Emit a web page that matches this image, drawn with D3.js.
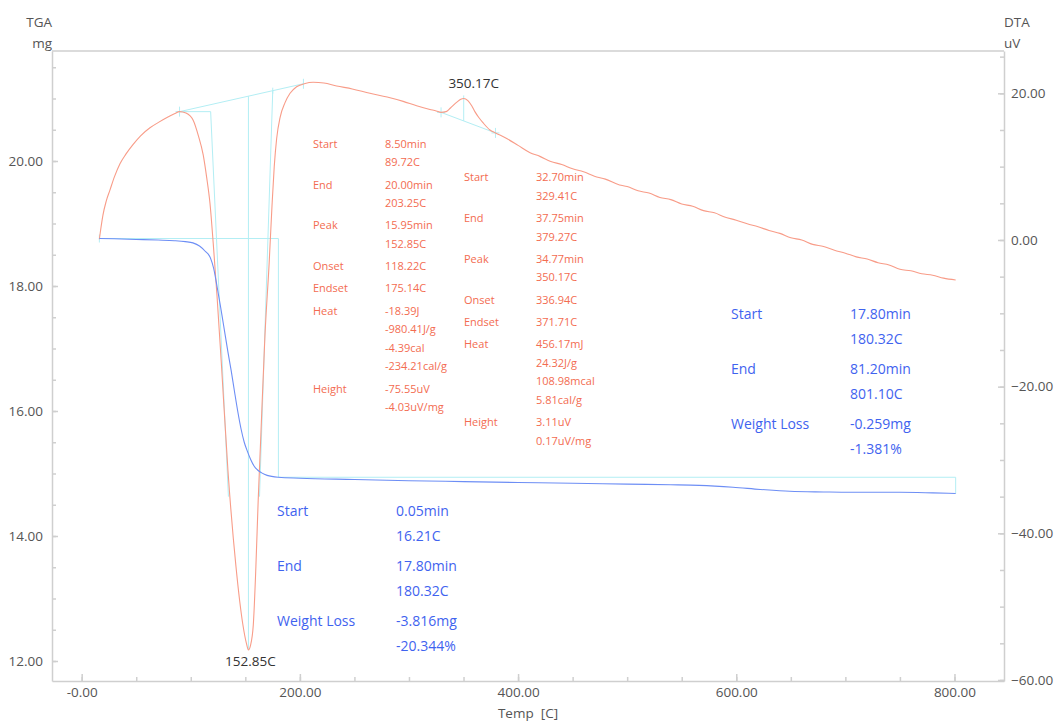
<!DOCTYPE html>
<html>
<head>
<meta charset="utf-8">
<script src="https://cdn.jsdelivr.net/npm/d3@7"></script>
<style>
  html,body{margin:0;padding:0;background:#fff;}
  svg{display:block;font-family:"Open Sans","Noto Sans",sans-serif;}
</style>
</head>
<body>
<svg id="chart" width="1054" height="722"></svg>
<script>
// ---------------- DATA ----------------
const tempTicks = [0, 200, 400, 600, 800];
const tempTickLabels = ["-0.00", "200.00", "400.00", "600.00", "800.00"];
const tempMinor = [0, 50, 100, 150, 200, 250, 300, 350, 400, 450, 500, 550, 600, 650, 700, 750, 800];
const tgaTicks = [12, 14, 16, 18, 20];
const tgaMinor = [12, 12.5, 13, 13.5, 14, 14.5, 15, 15.5, 16, 16.5, 17, 17.5, 18, 18.5, 19, 19.5, 20, 20.5, 21, 21.5];
const dtaTicks = [-60, -40, -20, 0, 20];
const dtaMinor = [-60, -55, -50, -45, -40, -35, -30, -25, -20, -15, -10, -5, 0, 5, 10, 15, 20, 25];

// TGA curve (temperature C, mass mg)
const tgaTemp = [16.21, 30, 50, 70, 85, 95, 102, 108, 113, 118, 121, 124, 127, 130, 134, 137, 140, 143, 146, 149, 152, 155, 158, 161, 165, 170, 180.32, 200, 250, 300, 350, 400, 450, 500, 540, 566, 597, 622, 649, 680, 704, 750, 780, 801.1];
const tgaMass = [18.76, 18.755, 18.745, 18.735, 18.725, 18.71, 18.69, 18.64, 18.56, 18.45, 18.28, 18.0, 17.7, 17.38, 16.95, 16.65, 16.32, 16.0, 15.72, 15.5, 15.35, 15.22, 15.12, 15.06, 15.01, 14.97, 14.94, 14.925, 14.905, 14.885, 14.87, 14.855, 14.845, 14.83, 14.82, 14.81, 14.78, 14.745, 14.715, 14.705, 14.70, 14.70, 14.69, 14.68];

// DTA curve (temperature C, signal uV)
const dtaTemp = [16.2, 17.5, 19.5, 22.5, 25.9, 30, 35.1, 40.5, 47, 54, 62.6, 70, 78.2, 85, 89.72, 95.6, 102.3, 107, 111.4, 114.5, 117.6, 120.6, 124, 128.3, 134.1, 141.4, 147.8, 151, 152.85, 154.7, 157.3, 159.7, 161.8, 164, 168, 171.9, 174.4, 176.5, 178.7, 182, 186.3, 191, 197, 204, 212.2, 222, 233.7, 248, 264.2, 280, 294.7, 307, 319.2, 325, 329.41, 334, 338, 343.9, 347.5, 350.17, 354, 357.5, 360.4, 364, 367.8, 374.2, 379.27,
  390, 400, 411, 420, 430, 440, 450, 460, 470, 480, 493, 500, 510, 520, 530, 540, 550, 560, 570, 580, 590, 600, 610, 620, 630, 640, 650, 660, 670, 680, 690, 700, 710, 720, 730, 740, 750, 760, 770, 780, 790, 801.1];
const dtaUV = [0.1, 1.5, 3.4, 5.3, 6.8, 8.6, 10.4, 11.7, 13.0, 14.2, 15.3, 16.0, 16.7, 17.2, 17.5, 17.3, 16.3, 14.2, 11.6, 8.6, 5.0, -0.5, -7.5, -17.5, -31.5, -44.5, -52.5, -55.0, -55.9, -55.3, -52.5, -44.5, -35.5, -27.5, -13.0, -3.0, 4.5, 10.0, 13.8, 16.8, 18.7, 20.0, 20.9, 21.3, 21.5, 21.4, 21.0, 20.6, 20.0, 19.5, 18.9, 18.3, 17.8, 17.6, 17.4, 17.5, 18.0, 18.8, 19.2, 19.3, 19.0, 18.3, 17.5, 16.7, 16.0, 15.0, 14.6,
  13.8, 12.9, 11.9, 11.4, 10.7, 10.3, 9.7, 9.3, 8.7, 8.3, 7.5, 7.3, 6.7, 6.4, 5.8, 5.5, 4.9, 4.6, 4.0, 3.7, 3.1, 2.7, 2.2, 1.8, 1.3, 0.9, 0.3, 0.0, -0.6, -0.9, -1.4, -1.8, -2.3, -2.6, -3.1, -3.4, -4.0, -4.2, -4.6, -4.8, -5.2, -5.45];

// DTA peak analysis 1 (temperatures C, values uV)
const peak1 = {start: 89.72, startUV: 17.5, end: 203.25, endUV: 21.3, peak: 152.85, peakUV: -55.9, onset: 118.22, endset: 175.14, tanLeftEnd: [134.5, -35], tanRightEnd: [163, -35]};
// DTA peak analysis 2
const peak2 = {start: 329.41, startUV: 17.4, end: 379.27, endUV: 14.6, peak: 350.17, peakUV: 19.3};
// TGA steps (temperature C, mass mg)
const tgaStep1 = {start: 16.21, end: 180.32, m0: 18.76, m1: 14.94};
const tgaStep2 = {start: 180.32, end: 801.1, m0: 14.94, m1: 14.68};

const peakLabel1 = "152.85C";
const peakLabel2 = "350.17C";

const dtaText1 = [["Start", ["8.50min", "89.72C"]], ["End", ["20.00min", "203.25C"]], ["Peak", ["15.95min", "152.85C"]], ["Onset", ["118.22C"]], ["Endset", ["175.14C"]], ["Heat", ["-18.39J", "-980.41J/g", "-4.39cal", "-234.21cal/g"]], ["Height", ["-75.55uV", "-4.03uV/mg"]]];
const dtaText2 = [["Start", ["32.70min", "329.41C"]], ["End", ["37.75min", "379.27C"]], ["Peak", ["34.77min", "350.17C"]], ["Onset", ["336.94C"]], ["Endset", ["371.71C"]], ["Heat", ["456.17mJ", "24.32J/g", "108.98mcal", "5.81cal/g"]], ["Height", ["3.11uV", "0.17uV/mg"]]];
const tgaText1 = [["Start", ["0.05min", "16.21C"]], ["End", ["17.80min", "180.32C"]], ["Weight Loss", ["-3.816mg", "-20.344%"]]];
const tgaText2 = [["Start", ["17.80min", "180.32C"]], ["End", ["81.20min", "801.10C"]], ["Weight Loss", ["-0.259mg", "-1.381%"]]];

// ---------------- DRAW ----------------
const svg = d3.select("#chart");
const L = 52, R = 1004, T = 51, B = 681;
const axisColor = "#cfcfcf", labelColor = "#555";
const redLine = "#f89c88", redText = "#f36c51";
const blueLine = "#6d8ef5", blueText = "#3f63ef";
const cyan = "#b3eef4";

const x = d3.scaleLinear().domain([-27.2, 845.4]).range([L, R]);
const yL = d3.scaleLinear().domain([11.68, 21.76]).range([B, T]);
const yR = d3.scaleLinear().domain([-60.14, 25.77]).range([B, T]);

function styleAxis(g) {
  g.selectAll("path, line").attr("stroke", axisColor).attr("stroke-width", 1.5);
  g.selectAll("text").attr("fill", labelColor).style("font-size", "13.5px").style("font-family", '"Open Sans","Noto Sans",sans-serif');
}

// frame top
svg.append("line").attr("x1", L).attr("x2", R).attr("y1", T).attr("y2", T).attr("stroke", axisColor).attr("stroke-width", 1.5);

// left axis
const gL = svg.append("g").attr("transform", `translate(${L},0)`)
  .call(d3.axisLeft(yL).tickValues(tgaTicks).tickFormat(d3.format(".2f")).tickSizeInner(-6).tickSizeOuter(0).tickPadding(9));
styleAxis(gL);
const gLm = svg.append("g").attr("transform", `translate(${L},0)`)
  .call(d3.axisLeft(yL).tickValues(tgaMinor).tickFormat("").tickSizeInner(-4).tickSizeOuter(0));
gLm.select(".domain").remove(); styleAxis(gLm);

// right axis
const gR = svg.append("g").attr("transform", `translate(${R},0)`)
  .call(d3.axisRight(yR).tickValues(dtaTicks).tickFormat(d3.format(".2f")).tickSizeInner(-6).tickSizeOuter(0).tickPadding(7));
styleAxis(gR);
const gRm = svg.append("g").attr("transform", `translate(${R},0)`)
  .call(d3.axisRight(yR).tickValues(dtaMinor).tickFormat("").tickSizeInner(-4).tickSizeOuter(0));
gRm.select(".domain").remove(); styleAxis(gRm);

// bottom axis
const gB = svg.append("g").attr("transform", `translate(0,${B})`)
  .call(d3.axisBottom(x).tickValues(tempTicks).tickFormat((d, i) => tempTickLabels[i]).tickSizeInner(-7).tickSizeOuter(0).tickPadding(6));
styleAxis(gB);
const gBm = svg.append("g").attr("transform", `translate(0,${B})`)
  .call(d3.axisBottom(x).tickValues(tempMinor).tickFormat("").tickSizeInner(-4).tickSizeOuter(0));
gBm.select(".domain").remove(); styleAxis(gBm);

// axis titles
const titleStyle = s => s.attr("fill", labelColor).style("font-size", "13.5px");
svg.append("text").attr("x", L).attr("y", 22).attr("text-anchor", "end").attr("dominant-baseline", "central").text("TGA").call(titleStyle);
svg.append("text").attr("x", L).attr("y", 43).attr("text-anchor", "end").attr("dominant-baseline", "central").text("mg").call(titleStyle);
svg.append("text").attr("x", R).attr("y", 22).attr("text-anchor", "start").attr("dominant-baseline", "central").text("DTA").call(titleStyle);
svg.append("text").attr("x", R).attr("y", 43).attr("text-anchor", "start").attr("dominant-baseline", "central").text("uV").call(titleStyle);
svg.append("text").attr("x", 528).attr("y", 713).attr("text-anchor", "middle").attr("dominant-baseline", "central").attr("xml:space", "preserve").text("Temp  [C]").call(titleStyle);

// construction lines
const cg = svg.append("g").attr("stroke", cyan).attr("stroke-width", 1).attr("fill", "none");
function seg(x1, y1, x2, y2) { cg.append("line").attr("x1", x1).attr("y1", y1).attr("x2", x2).attr("y2", y2); }
function cross(px, py) { seg(px - 4, py, px + 4, py); seg(px, py - 5, px, py + 5); }

// peak 1
{
  const p = peak1;
  const bl = t => p.startUV + (p.endUV - p.startUV) * (t - p.start) / (p.end - p.start);
  seg(x(p.start), yR(p.startUV), x(p.end), yR(p.endUV));
  seg(x(p.start), yR(p.startUV), x(p.onset), yR(p.startUV));
  seg(x(p.onset), yR(p.startUV), x(p.tanLeftEnd[0]), yR(p.tanLeftEnd[1]));
  seg(x(p.endset), yR(bl(p.endset)), x(p.tanRightEnd[0]), yR(p.tanRightEnd[1]));
  seg(x(p.peak), yR(bl(p.peak)), x(p.peak), yR(p.peakUV));
  seg(x(p.endset), yR(bl(p.endset)) - 3, x(p.endset), yR(bl(p.endset)) + 3);
  cross(x(p.start), yR(p.startUV));
  seg(x(p.end), yR(p.endUV) - 5, x(p.end), yR(p.endUV) + 5);
}
// peak 2
{
  const p = peak2;
  const bl = t => p.startUV + (p.endUV - p.startUV) * (t - p.start) / (p.end - p.start);
  seg(x(p.start), yR(p.startUV), x(p.end), yR(p.endUV));
  seg(x(p.peak), yR(p.peakUV) - 3, x(p.peak), yR(bl(p.peak)));
  cross(x(p.start), yR(p.startUV));
  cross(x(p.end), yR(p.endUV));
}
// TGA steps
[tgaStep1, tgaStep2].forEach(s => {
  seg(x(s.start), yL(s.m0), x(s.end), yL(s.m0));
  seg(x(s.end), yL(s.m0), x(s.end), yL(s.m1));
});
seg(x(tgaStep1.start), yL(tgaStep1.m0) - 4, x(tgaStep1.start), yL(tgaStep1.m0) + 4);

// curves
const dtaData = dtaTemp.map((t, i) => [t, dtaUV[i]]);
const tgaData = tgaTemp.map((t, i) => [t, tgaMass[i]]);
svg.append("path").datum(dtaData)
  .attr("d", d3.line().x(d => x(d[0])).y(d => yR(d[1])).curve(d3.curveMonotoneX))
  .attr("fill", "none").attr("stroke", redLine).attr("stroke-width", 1.1);
svg.append("path").datum(tgaData)
  .attr("d", d3.line().x(d => x(d[0])).y(d => yL(d[1])).curve(d3.curveMonotoneX))
  .attr("fill", "none").attr("stroke", blueLine).attr("stroke-width", 1.1);

// peak labels
svg.append("text").attr("x", x(peak1.peak) + 2).attr("y", yR(peak1.peakUV) + 11).attr("text-anchor", "middle").attr("dominant-baseline", "central")
  .attr("fill", "#333").style("font-size", "13.5px").text(peakLabel1);
svg.append("text").attr("x", x(peak2.peak) + 10).attr("y", yR(peak2.peakUV) - 15).attr("text-anchor", "middle").attr("dominant-baseline", "central")
  .attr("fill", "#333").style("font-size", "13.5px").text(peakLabel2);

// text blocks
function block(items, lx, vx, y0, lineH, gap, color, size) {
  const g = svg.append("g").attr("fill", color).style("font-size", size + "px");
  let y = y0;
  items.forEach(([lab, vals]) => {
    g.append("text").attr("x", lx).attr("y", y).attr("dominant-baseline", "central").text(lab);
    vals.forEach((v, i) => {
      g.append("text").attr("x", vx).attr("y", y + i * lineH).attr("dominant-baseline", "central").text(v);
    });
    y += (vals.length - 1) * lineH + gap;
  });
}
block(dtaText1, 313, 385, 143.3, 18.6, 22.2, redText, 11);
block(dtaText2, 464, 536, 176.7, 18.6, 22.2, redText, 11);
block(tgaText1, 277, 396, 510.7, 25, 30, blueText, 14);
block(tgaText2, 731, 850, 313.3, 25, 30, blueText, 14);
</script>
</body>
</html>
